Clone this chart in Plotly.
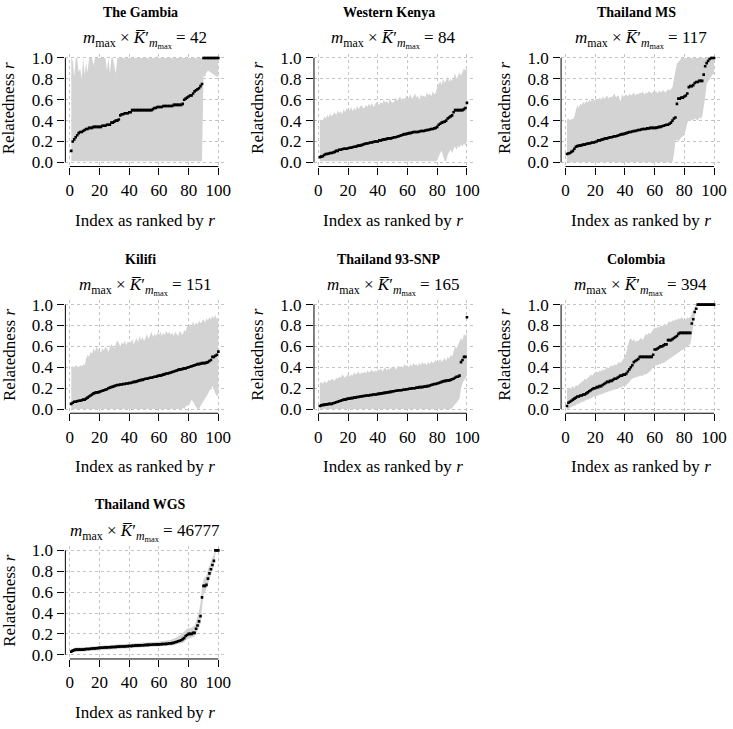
import plotly.graph_objects as go

# ---------------- data ----------------
panel_titles = ["The Gambia", "Western Kenya", "Thailand MS", "Kilifi",
                "Thailand 93-SNP", "Colombia", "Thailand WGS"]
effective_counts = [42, 84, 117, 151, 165, 394, 46777]

x_ticks = [0, 20, 40, 60, 80, 100]
y_ticks = [0.0, 0.2, 0.4, 0.6, 0.8, 1.0]
y_tick_text = ["0.0", "0.2", "0.4", "0.6", "0.8", "1.0"]

gambia_r = [0.11, 0.20, 0.22, 0.24, 0.26, 0.28, 0.29, 0.29, 0.30, 0.31,
            0.32, 0.32, 0.33, 0.33, 0.33, 0.34, 0.34, 0.34, 0.34, 0.34,
            0.34, 0.35, 0.35, 0.35, 0.36, 0.36, 0.36, 0.38, 0.38, 0.39,
            0.40, 0.40, 0.41, 0.45, 0.46, 0.46, 0.47, 0.47, 0.47, 0.48,
            0.48, 0.50, 0.50, 0.50, 0.50, 0.50, 0.50, 0.50, 0.50, 0.50,
            0.50, 0.50, 0.50, 0.50, 0.50, 0.51, 0.52, 0.52, 0.53, 0.53,
            0.53, 0.53, 0.54, 0.54, 0.54, 0.54, 0.54, 0.54, 0.54, 0.55,
            0.55, 0.55, 0.55, 0.55, 0.55, 0.56, 0.60, 0.61, 0.62, 0.63,
            0.64, 0.64, 0.66, 0.68, 0.69, 0.70, 0.71, 0.73, 0.75, 1.00,
            1.00, 1.00, 1.00, 1.00, 1.00, 1.00, 1.00, 1.00, 1.00, 1.00]
gambia_hi = [1.00, 0.97, 0.82, 1.00, 1.00, 0.86, 0.90, 0.80, 1.00, 0.84,
             0.95, 0.86, 1.00, 1.00, 1.00, 0.93, 1.00, 1.00, 1.00, 1.00,
             1.00, 1.00, 1.00, 1.00, 0.88, 1.00, 0.85, 1.00, 1.00, 0.90,
             0.85, 1.00, 1.00, 1.00, 1.00, 1.00, 1.00, 1.00, 1.00, 1.00,
             1.00, 1.00, 1.00, 1.00, 1.00, 1.00, 1.00, 1.00, 1.00, 1.00,
             1.00, 1.00, 1.00, 1.00, 1.00, 1.00, 1.00, 1.00, 1.00, 1.00,
             1.00, 1.00, 1.00, 1.00, 1.00, 1.00, 1.00, 1.00, 1.00, 1.00,
             1.00, 1.00, 1.00, 1.00, 1.00, 1.00, 1.00, 1.00, 1.00, 1.00,
             1.00, 1.00, 1.00, 1.00, 1.00, 1.00, 1.00, 1.00, 1.00, 1.00,
             1.00, 1.00, 1.00, 1.00, 1.00, 1.00, 1.00, 1.00, 1.00, 1.00]
gambia_lo = [0.01, 0.01, 0.01, 0.01, 0.01, 0.01, 0.01, 0.01, 0.01, 0.01,
             0.01, 0.01, 0.01, 0.01, 0.01, 0.01, 0.01, 0.01, 0.01, 0.01,
             0.01, 0.01, 0.01, 0.01, 0.01, 0.01, 0.01, 0.01, 0.01, 0.01,
             0.01, 0.01, 0.01, 0.01, 0.01, 0.01, 0.01, 0.01, 0.01, 0.01,
             0.01, 0.01, 0.01, 0.01, 0.01, 0.01, 0.01, 0.01, 0.01, 0.01,
             0.01, 0.01, 0.01, 0.01, 0.01, 0.01, 0.01, 0.01, 0.01, 0.01,
             0.01, 0.01, 0.01, 0.01, 0.01, 0.01, 0.01, 0.01, 0.01, 0.01,
             0.01, 0.01, 0.01, 0.01, 0.01, 0.01, 0.01, 0.01, 0.01, 0.01,
             0.01, 0.01, 0.01, 0.01, 0.01, 0.01, 0.01, 0.01, 0.01, 0.83,
             0.82, 0.86, 0.88, 0.87, 0.86, 0.85, 0.84, 0.83, 0.82, 0.82]

kenya_r = [0.05, 0.055, 0.06, 0.07, 0.08, 0.08, 0.085, 0.09, 0.09, 0.095,
           0.10, 0.11, 0.11, 0.12, 0.12, 0.125, 0.13, 0.13, 0.13, 0.135,
           0.14, 0.14, 0.145, 0.15, 0.15, 0.155, 0.16, 0.16, 0.165, 0.17,
           0.175, 0.18, 0.18, 0.185, 0.19, 0.19, 0.195, 0.20, 0.20, 0.20,
           0.21, 0.21, 0.215, 0.22, 0.22, 0.225, 0.23, 0.23, 0.23, 0.235,
           0.24, 0.24, 0.245, 0.25, 0.255, 0.26, 0.265, 0.27, 0.27, 0.275,
           0.28, 0.28, 0.285, 0.29, 0.29, 0.29, 0.29, 0.295, 0.30, 0.30,
           0.30, 0.305, 0.31, 0.31, 0.315, 0.32, 0.32, 0.325, 0.33, 0.34,
           0.36, 0.37, 0.38, 0.385, 0.39, 0.40, 0.42, 0.43, 0.44, 0.45,
           0.48, 0.50, 0.50, 0.50, 0.50, 0.50, 0.50, 0.51, 0.52, 0.57]
kenya_hi = [0.40, 0.41, 0.40, 0.44, 0.42, 0.45, 0.43, 0.47, 0.44, 0.46,
            0.48, 0.45, 0.50, 0.47, 0.49, 0.46, 0.51, 0.48, 0.52, 0.50,
            0.50, 0.53, 0.49, 0.52, 0.50, 0.54, 0.51, 0.53, 0.55, 0.52,
            0.52, 0.55, 0.53, 0.56, 0.54, 0.57, 0.53, 0.55, 0.58, 0.56,
            0.55, 0.58, 0.56, 0.60, 0.57, 0.59, 0.56, 0.61, 0.58, 0.57,
            0.58, 0.62, 0.59, 0.61, 0.63, 0.60, 0.62, 0.59, 0.64, 0.61,
            0.62, 0.65, 0.61, 0.63, 0.66, 0.62, 0.64, 0.60, 0.65, 0.63,
            0.64, 0.62, 0.67, 0.64, 0.66, 0.63, 0.68, 0.65, 0.67, 0.72,
            0.75, 0.78, 0.74, 0.80, 0.76, 0.79, 0.82, 0.77, 0.80, 0.78,
            0.82, 0.85, 0.80, 0.84, 0.86, 0.83, 0.87, 0.90, 0.88, 0.91]
kenya_lo = [0.01, 0.01, 0.01, 0.01, 0.01, 0.01, 0.01, 0.01, 0.01, 0.01,
            0.01, 0.01, 0.01, 0.01, 0.01, 0.01, 0.01, 0.01, 0.01, 0.01,
            0.01, 0.01, 0.01, 0.01, 0.01, 0.01, 0.01, 0.01, 0.01, 0.01,
            0.01, 0.01, 0.01, 0.01, 0.01, 0.01, 0.01, 0.01, 0.01, 0.01,
            0.01, 0.01, 0.01, 0.01, 0.01, 0.01, 0.01, 0.01, 0.01, 0.01,
            0.01, 0.01, 0.01, 0.01, 0.01, 0.01, 0.01, 0.01, 0.01, 0.01,
            0.01, 0.01, 0.01, 0.01, 0.01, 0.01, 0.01, 0.01, 0.01, 0.01,
            0.01, 0.01, 0.01, 0.01, 0.01, 0.01, 0.01, 0.01, 0.01, 0.02,
            0.06, 0.09, 0.11, 0.06, 0.01, 0.01, 0.07, 0.10, 0.12, 0.09,
            0.13, 0.15, 0.12, 0.16, 0.14, 0.17, 0.15, 0.18, 0.16, 0.20]

thms_r = [0.08, 0.085, 0.09, 0.10, 0.11, 0.13, 0.15, 0.155, 0.16, 0.16,
          0.165, 0.17, 0.17, 0.175, 0.18, 0.18, 0.185, 0.19, 0.19, 0.195,
          0.20, 0.21, 0.21, 0.215, 0.22, 0.225, 0.23, 0.23, 0.235, 0.24,
          0.24, 0.245, 0.25, 0.25, 0.255, 0.26, 0.265, 0.27, 0.27, 0.275,
          0.28, 0.285, 0.29, 0.29, 0.295, 0.30, 0.30, 0.305, 0.31, 0.31,
          0.315, 0.32, 0.32, 0.32, 0.325, 0.325, 0.33, 0.33, 0.33, 0.33,
          0.33, 0.335, 0.34, 0.34, 0.345, 0.35, 0.355, 0.36, 0.36, 0.37,
          0.38, 0.40, 0.42, 0.43, 0.56, 0.61, 0.61, 0.62, 0.62, 0.63,
          0.64, 0.66, 0.72, 0.73, 0.73, 0.74, 0.76, 0.77, 0.77, 0.78,
          0.78, 0.78, 0.84, 0.92, 0.95, 0.97, 0.99, 1.00, 1.00, 1.00]
thms_hi = [0.41, 0.42, 0.40, 0.42, 0.41, 0.44, 0.50, 0.55, 0.52, 0.56,
           0.55, 0.58, 0.56, 0.59, 0.57, 0.60, 0.58, 0.61, 0.59, 0.60,
           0.61, 0.59, 0.62, 0.60, 0.63, 0.61, 0.62, 0.64, 0.61, 0.63,
           0.62, 0.64, 0.66, 0.62, 0.64, 0.63, 0.58, 0.65, 0.63, 0.64,
           0.65, 0.63, 0.66, 0.64, 0.65, 0.67, 0.64, 0.66, 0.65, 0.67,
           0.66, 0.68, 0.65, 0.67, 0.66, 0.68, 0.67, 0.66, 0.68, 0.67,
           0.68, 0.66, 0.69, 0.67, 0.68, 0.69, 0.67, 0.68, 0.70, 0.69,
           0.70, 0.72, 0.80, 0.90, 0.95, 0.96, 0.98, 1.00, 1.00, 1.00,
           1.00, 1.00, 1.00, 1.00, 1.00, 1.00, 1.00, 1.00, 1.00, 1.00,
           1.00, 1.00, 1.00, 1.00, 1.00, 1.00, 1.00, 1.00, 1.00, 1.00]
thms_lo = [0.0, 0.0, 0.0, 0.0, 0.0, 0.0, 0.0, 0.0, 0.0, 0.0,
           0.0, 0.0, 0.0, 0.0, 0.0, 0.0, 0.0, 0.0, 0.0, 0.0,
           0.0, 0.0, 0.0, 0.0, 0.0, 0.0, 0.0, 0.0, 0.0, 0.0,
           0.0, 0.0, 0.0, 0.0, 0.0, 0.0, 0.0, 0.0, 0.0, 0.0,
           0.0, 0.0, 0.0, 0.0, 0.0, 0.0, 0.0, 0.0, 0.0, 0.0,
           0.0, 0.0, 0.0, 0.0, 0.0, 0.0, 0.0, 0.0, 0.0, 0.0,
           0.0, 0.0, 0.0, 0.0, 0.0, 0.0, 0.0, 0.0, 0.0, 0.0,
           0.0, 0.0, 0.08, 0.20, 0.22, 0.20, 0.22, 0.24, 0.25, 0.26,
           0.30, 0.38, 0.40, 0.39, 0.41, 0.40, 0.42, 0.41, 0.40, 0.43,
           0.42, 0.44, 0.50, 0.62, 0.75, 0.78, 0.80, 0.82, 0.84, 0.85]

kilifi_r = [0.05, 0.06, 0.07, 0.07, 0.075, 0.08, 0.08, 0.085, 0.09, 0.09,
            0.10, 0.11, 0.12, 0.13, 0.14, 0.15, 0.155, 0.16, 0.16, 0.165,
            0.17, 0.175, 0.18, 0.185, 0.19, 0.20, 0.205, 0.21, 0.215, 0.22,
            0.225, 0.23, 0.23, 0.235, 0.235, 0.24, 0.24, 0.245, 0.245, 0.25,
            0.25, 0.255, 0.26, 0.26, 0.265, 0.27, 0.275, 0.28, 0.28, 0.285,
            0.29, 0.29, 0.295, 0.30, 0.30, 0.305, 0.31, 0.31, 0.315, 0.32,
            0.32, 0.325, 0.33, 0.335, 0.34, 0.34, 0.345, 0.35, 0.355, 0.36,
            0.365, 0.37, 0.375, 0.38, 0.38, 0.385, 0.39, 0.39, 0.395, 0.40,
            0.405, 0.41, 0.415, 0.42, 0.425, 0.43, 0.43, 0.435, 0.44, 0.44,
            0.44, 0.445, 0.45, 0.46, 0.47, 0.50, 0.50, 0.51, 0.52, 0.55]
kilifi_hi = [0.40, 0.41, 0.40, 0.42, 0.41, 0.40, 0.42, 0.41, 0.43, 0.42,
             0.48, 0.52, 0.50, 0.55, 0.53, 0.58, 0.55, 0.60, 0.57, 0.56,
             0.54, 0.58, 0.56, 0.60, 0.58, 0.55, 0.59, 0.62, 0.60, 0.58,
             0.62, 0.66, 0.63, 0.60, 0.64, 0.62, 0.66, 0.61, 0.65, 0.63,
             0.64, 0.67, 0.62, 0.66, 0.68, 0.64, 0.70, 0.66, 0.69, 0.65,
             0.68, 0.72, 0.67, 0.70, 0.74, 0.69, 0.72, 0.70, 0.73, 0.71,
             0.74, 0.70, 0.73, 0.71, 0.75, 0.72, 0.74, 0.71, 0.73, 0.70,
             0.74, 0.72, 0.70, 0.75, 0.73, 0.71, 0.76, 0.74, 0.80, 0.78,
             0.82, 0.79, 0.84, 0.80, 0.83, 0.81, 0.85, 0.82, 0.84, 0.86,
             0.83, 0.87, 0.85, 0.88, 0.86, 0.89, 0.87, 0.90, 0.86, 0.88]
kilifi_lo = [0.0, 0.0, 0.0, 0.0, 0.0, 0.0, 0.0, 0.0, 0.0, 0.0,
             0.0, 0.0, 0.0, 0.0, 0.0, 0.0, 0.0, 0.0, 0.0, 0.0,
             0.0, 0.0, 0.0, 0.0, 0.0, 0.0, 0.0, 0.0, 0.0, 0.0,
             0.0, 0.0, 0.0, 0.0, 0.0, 0.0, 0.0, 0.0, 0.0, 0.0,
             0.0, 0.0, 0.0, 0.0, 0.0, 0.0, 0.0, 0.0, 0.0, 0.0,
             0.0, 0.0, 0.0, 0.0, 0.0, 0.0, 0.0, 0.0, 0.0, 0.0,
             0.0, 0.0, 0.0, 0.0, 0.0, 0.0, 0.0, 0.0, 0.0, 0.0,
             0.0, 0.0, 0.0, 0.0, 0.0, 0.01, 0.0, 0.02, 0.04, 0.03,
             0.06, 0.09, 0.07, 0.05, 0.02, 0.0, 0.0, 0.03, 0.06, 0.08,
             0.10, 0.12, 0.14, 0.17, 0.20, 0.22, 0.18, 0.15, 0.12, 0.14]

snp_r = [0.03, 0.035, 0.04, 0.04, 0.045, 0.045, 0.05, 0.05, 0.05, 0.055,
         0.06, 0.065, 0.07, 0.075, 0.08, 0.085, 0.09, 0.09, 0.095, 0.10,
         0.10, 0.105, 0.105, 0.11, 0.11, 0.115, 0.115, 0.12, 0.12, 0.125,
         0.125, 0.13, 0.13, 0.13, 0.135, 0.135, 0.14, 0.14, 0.14, 0.145,
         0.145, 0.15, 0.15, 0.155, 0.155, 0.16, 0.16, 0.165, 0.165, 0.17,
         0.17, 0.175, 0.175, 0.18, 0.18, 0.18, 0.185, 0.185, 0.19, 0.19,
         0.195, 0.195, 0.20, 0.20, 0.20, 0.205, 0.205, 0.21, 0.21, 0.21,
         0.215, 0.215, 0.22, 0.22, 0.225, 0.23, 0.235, 0.24, 0.24, 0.245,
         0.25, 0.255, 0.26, 0.265, 0.27, 0.27, 0.275, 0.275, 0.28, 0.285,
         0.29, 0.30, 0.31, 0.31, 0.32, 0.45, 0.47, 0.50, 0.50, 0.88]
snp_hi = [0.25, 0.26, 0.24, 0.27, 0.25, 0.26, 0.28, 0.27, 0.29, 0.28,
          0.27, 0.30, 0.29, 0.31, 0.30, 0.33, 0.31, 0.30, 0.32, 0.34,
          0.31, 0.33, 0.32, 0.35, 0.33, 0.34, 0.36, 0.33, 0.35, 0.34,
          0.36, 0.34, 0.37, 0.35, 0.36, 0.38, 0.35, 0.37, 0.36, 0.38,
          0.37, 0.39, 0.36, 0.38, 0.40, 0.37, 0.39, 0.38, 0.40, 0.39,
          0.41, 0.38, 0.40, 0.42, 0.39, 0.41, 0.40, 0.43, 0.41, 0.42,
          0.40, 0.43, 0.41, 0.44, 0.42, 0.43, 0.41, 0.44, 0.42, 0.45,
          0.43, 0.44, 0.42, 0.45, 0.43, 0.46, 0.44, 0.45, 0.47, 0.44,
          0.46, 0.48, 0.45, 0.47, 0.49, 0.46, 0.50, 0.48, 0.52, 0.50,
          0.55, 0.60, 0.58, 0.62, 0.65, 0.68, 0.66, 0.72, 0.70, 0.73]
snp_lo = [0.0, 0.0, 0.0, 0.0, 0.0, 0.0, 0.0, 0.0, 0.0, 0.0,
          0.0, 0.0, 0.0, 0.0, 0.0, 0.0, 0.0, 0.0, 0.0, 0.0,
          0.0, 0.0, 0.0, 0.0, 0.0, 0.0, 0.0, 0.0, 0.0, 0.0,
          0.0, 0.0, 0.0, 0.0, 0.0, 0.0, 0.0, 0.0, 0.0, 0.0,
          0.0, 0.0, 0.0, 0.0, 0.0, 0.0, 0.0, 0.0, 0.0, 0.0,
          0.0, 0.0, 0.0, 0.0, 0.0, 0.0, 0.0, 0.0, 0.0, 0.0,
          0.0, 0.0, 0.0, 0.0, 0.0, 0.0, 0.0, 0.0, 0.0, 0.0,
          0.0, 0.0, 0.0, 0.0, 0.0, 0.0, 0.0, 0.0, 0.0, 0.0,
          0.0, 0.0, 0.0, 0.0, 0.0, 0.0, 0.0, 0.0, 0.0, 0.01,
          0.02, 0.04, 0.06, 0.08, 0.10, 0.20, 0.25, 0.28, 0.30, 0.32]

col_r = [0.03, 0.06, 0.07, 0.08, 0.09, 0.10, 0.11, 0.12, 0.12, 0.13,
         0.13, 0.14, 0.14, 0.15, 0.16, 0.17, 0.18, 0.19, 0.20, 0.20,
         0.21, 0.21, 0.22, 0.22, 0.23, 0.24, 0.25, 0.26, 0.26, 0.27,
         0.27, 0.28, 0.29, 0.29, 0.30, 0.31, 0.32, 0.32, 0.33, 0.33,
         0.34, 0.36, 0.38, 0.40, 0.42, 0.45, 0.46, 0.47, 0.48, 0.50,
         0.50, 0.50, 0.50, 0.50, 0.50, 0.50, 0.50, 0.50, 0.52, 0.57,
         0.57, 0.58, 0.59, 0.60, 0.60, 0.61, 0.62, 0.62, 0.66, 0.66,
         0.66, 0.67, 0.68, 0.69, 0.70, 0.72, 0.73, 0.73, 0.73, 0.73,
         0.73, 0.73, 0.73, 0.73, 0.82, 0.86, 0.93, 0.96, 1.00, 1.00,
         1.00, 1.00, 1.00, 1.00, 1.00, 1.00, 1.00, 1.00, 1.00, 1.00]
col_hi = [0.18, 0.20, 0.19, 0.21, 0.22, 0.20, 0.23, 0.22, 0.24, 0.25,
          0.26, 0.27, 0.29, 0.28, 0.30, 0.31, 0.33, 0.32, 0.34, 0.35,
          0.36, 0.35, 0.37, 0.36, 0.38, 0.37, 0.39, 0.40, 0.39, 0.41,
          0.42, 0.41, 0.43, 0.42, 0.44, 0.45, 0.44, 0.46, 0.48, 0.50,
          0.55, 0.62, 0.66, 0.68, 0.65, 0.67, 0.64, 0.66, 0.65, 0.67,
          0.68, 0.66, 0.70, 0.72, 0.71, 0.73, 0.72, 0.74, 0.76, 0.78,
          0.77, 0.79, 0.78, 0.80, 0.79, 0.81, 0.82, 0.80, 0.83, 0.84,
          0.83, 0.85, 0.84, 0.86, 0.85, 0.87, 0.86, 0.88, 0.87, 0.85,
          0.86, 0.88, 0.87, 0.88, 0.92, 0.95, 0.98, 1.00, 1.00, 1.00,
          1.00, 1.00, 1.00, 1.00, 1.00, 1.00, 1.00, 1.00, 1.00, 1.00]
col_lo = [0.0, 0.0, 0.01, 0.02, 0.03, 0.03, 0.04, 0.05, 0.05, 0.06,
          0.07, 0.07, 0.08, 0.09, 0.09, 0.10, 0.10, 0.11, 0.12, 0.12,
          0.13, 0.13, 0.14, 0.14, 0.15, 0.15, 0.16, 0.16, 0.17, 0.17,
          0.18, 0.18, 0.19, 0.19, 0.20, 0.20, 0.21, 0.21, 0.22, 0.22,
          0.23, 0.24, 0.26, 0.28, 0.29, 0.30, 0.30, 0.31, 0.31, 0.32,
          0.32, 0.32, 0.33, 0.33, 0.34, 0.35, 0.36, 0.38, 0.40, 0.41,
          0.42, 0.42, 0.43, 0.43, 0.44, 0.44, 0.45, 0.46, 0.47, 0.48,
          0.49, 0.50, 0.51, 0.52, 0.53, 0.54, 0.55, 0.56, 0.57, 0.58,
          0.59, 0.60, 0.61, 0.62, 0.70, 0.80, 0.90, 0.97, 1.00, 1.00,
          1.00, 1.00, 1.00, 1.00, 1.00, 1.00, 1.00, 1.00, 1.00, 1.00]

wgs_r = [0.03, 0.04, 0.045, 0.05, 0.05, 0.05, 0.05, 0.05, 0.05, 0.052,
         0.055, 0.055, 0.056, 0.058, 0.06, 0.06, 0.062, 0.063, 0.065, 0.066,
         0.067, 0.068, 0.07, 0.07, 0.071, 0.072, 0.073, 0.074, 0.075, 0.075,
         0.076, 0.077, 0.078, 0.079, 0.08, 0.08, 0.081, 0.082, 0.083, 0.084,
         0.085, 0.086, 0.087, 0.088, 0.089, 0.09, 0.09, 0.091, 0.092, 0.093,
         0.094, 0.095, 0.095, 0.096, 0.097, 0.098, 0.098, 0.099, 0.10, 0.10,
         0.101, 0.102, 0.103, 0.104, 0.105, 0.106, 0.108, 0.11, 0.112, 0.115,
         0.12, 0.125, 0.13, 0.135, 0.14, 0.15, 0.16, 0.18, 0.19, 0.20,
         0.20, 0.20, 0.21, 0.21, 0.25, 0.28, 0.32, 0.37, 0.55, 0.66,
         0.66, 0.67, 0.73, 0.78, 0.82, 0.86, 0.90, 1.00, 1.00, 1.00]
wgs_hi = [0.05, 0.06, 0.065, 0.07, 0.07, 0.068, 0.07, 0.072, 0.07, 0.072,
          0.075, 0.074, 0.076, 0.078, 0.08, 0.079, 0.082, 0.083, 0.085, 0.086,
          0.087, 0.088, 0.09, 0.091, 0.092, 0.092, 0.094, 0.095, 0.096, 0.096,
          0.097, 0.098, 0.10, 0.10, 0.102, 0.101, 0.103, 0.104, 0.105, 0.106,
          0.107, 0.108, 0.11, 0.11, 0.112, 0.113, 0.113, 0.114, 0.116, 0.117,
          0.118, 0.12, 0.12, 0.121, 0.122, 0.124, 0.124, 0.125, 0.126, 0.127,
          0.128, 0.13, 0.131, 0.133, 0.135, 0.137, 0.14, 0.143, 0.147, 0.152,
          0.16, 0.167, 0.175, 0.185, 0.195, 0.21, 0.225, 0.24, 0.25, 0.255,
          0.255, 0.26, 0.27, 0.28, 0.32, 0.36, 0.42, 0.50, 0.65, 0.72,
          0.74, 0.76, 0.82, 0.86, 0.90, 0.93, 0.96, 1.00, 1.00, 1.00]
wgs_lo = [0.02, 0.025, 0.03, 0.032, 0.033, 0.033, 0.033, 0.034, 0.034, 0.035,
          0.037, 0.037, 0.038, 0.04, 0.041, 0.042, 0.044, 0.045, 0.046, 0.047,
          0.048, 0.049, 0.05, 0.051, 0.052, 0.053, 0.054, 0.055, 0.056, 0.056,
          0.057, 0.058, 0.059, 0.06, 0.061, 0.061, 0.062, 0.063, 0.064, 0.065,
          0.066, 0.067, 0.067, 0.068, 0.069, 0.07, 0.07, 0.071, 0.072, 0.073,
          0.074, 0.075, 0.075, 0.076, 0.077, 0.078, 0.078, 0.079, 0.08, 0.08,
          0.081, 0.082, 0.083, 0.083, 0.084, 0.085, 0.087, 0.088, 0.09, 0.092,
          0.095, 0.098, 0.10, 0.105, 0.11, 0.115, 0.12, 0.14, 0.15, 0.16,
          0.16, 0.165, 0.17, 0.175, 0.20, 0.22, 0.26, 0.30, 0.45, 0.58,
          0.60, 0.62, 0.66, 0.72, 0.76, 0.80, 0.85, 0.97, 1.00, 1.00]

series_r = [gambia_r, kenya_r, thms_r, kilifi_r, snp_r, col_r, wgs_r]
series_hi = [gambia_hi, kenya_hi, thms_hi, kilifi_hi, snp_hi, col_hi, wgs_hi]
series_lo = [gambia_lo, kenya_lo, thms_lo, kilifi_lo, snp_lo, col_lo, wgs_lo]

# ---------------- layout geometry (pixels in the 733x729 window) ----------------
W, H = 733, 729
col_left = [66.0, 317.0, 566.5]
row_top = [49.5, 300.0, 549.5]
pw, ph = 160.4, 114.5


def px(v):
    return v / W


def py(v):
    return 1 - v / H


FONT = "Liberation Serif"
BAND = "#d3d3d3"
GRID = "#c4c4c4"

fig = go.Figure()
annotations = []
shapes = []
layout_axes = {}

for k, title in enumerate(panel_titles):
    r, c = divmod(k, 3)
    n = k + 1
    xs = "" if n == 1 else str(n)
    xa, ya = "x" + xs, "y" + xs
    left, top = col_left[c], row_top[r]
    idx = list(range(1, len(series_r[k]) + 1))

    # confidence band
    fig.add_trace(go.Scatter(
        x=idx + idx[::-1], y=series_hi[k] + series_lo[k][::-1],
        fill="toself", fillcolor=BAND, line=dict(width=0),
        mode="lines", hoverinfo="skip", showlegend=False,
        xaxis=xa, yaxis=ya))
    # point estimates
    fig.add_trace(go.Scatter(
        x=idx, y=series_r[k], mode="markers",
        marker=dict(color="black", size=2.6, symbol="square", line=dict(width=0)),
        showlegend=False, xaxis=xa, yaxis=ya))

    common = dict(
        showgrid=True, gridcolor=GRID, griddash="3px,3px", gridwidth=1,
        zeroline=False, showline=False, ticks="outside", ticklen=7,
        tickwidth=1, tickcolor="black",
        tickfont=dict(family=FONT, size=17, color="black"),
    )
    layout_axes["xaxis" + xs] = dict(
        common, domain=[px(left), px(left + pw)], anchor=ya,
        range=[-2.96, 103.96], tickvals=x_ticks, ticklabelstandoff=1)
    layout_axes["yaxis" + xs] = dict(
        common, domain=[py(top + ph), py(top)], anchor=xa,
        range=[-0.04, 1.04], tickvals=y_ticks, ticktext=y_tick_text,
        ticklabelstandoff=1)

    # axis lines spanning only the tick range (R style)
    shapes.append(dict(type="line", xref=xa, yref=ya + " domain",
                       x0=x_ticks[0], x1=x_ticks[-1], y0=0, y1=0,
                       line=dict(color="black", width=1)))
    shapes.append(dict(type="line", xref=xa + " domain", yref=ya,
                       x0=0, x1=0, y0=y_ticks[0], y1=y_ticks[-1],
                       line=dict(color="black", width=1)))

    cxp = left + pw / 2
    annotations.append(dict(
        text="<b>" + title + "</b>", x=px(cxp - 4.5), y=py(top - 42),
        xref="paper", yref="paper", showarrow=False, xanchor="center",
        yanchor="middle", font=dict(family=FONT, size=14, color="black")))
    annotations.append(dict(
        text=("<i>m</i><sub>max</sub> \u00d7 <i>K\u0305</i>\u2032"
              "<sub><i>m</i><sub>max</sub></sub> = " + str(effective_counts[k])),
        x=px(cxp), y=py(top - 14), xref="paper", yref="paper",
        showarrow=False, xanchor="center", yanchor="middle",
        font=dict(family=FONT, size=17, color="black")))
    annotations.append(dict(
        text="Index as ranked by <i>r</i>", x=px(cxp), y=py(top + 169),
        xref="paper", yref="paper", showarrow=False, xanchor="center",
        yanchor="middle", font=dict(family=FONT, size=17, color="black")))
    annotations.append(dict(
        text="Relatedness <i>r</i>", x=px(left - 56.5),
        y=py(top + 55), xref="paper", yref="paper",
        showarrow=False, xanchor="center", yanchor="middle", textangle=-90,
        font=dict(family=FONT, size=17, color="black")))

fig.update_layout(
    width=W, height=H, margin=dict(l=0, r=0, t=0, b=0),
    paper_bgcolor="white", plot_bgcolor="white",
    annotations=annotations, shapes=shapes, **layout_axes)

# remove the default page margin so the figure fills the window exactly
fig.write_html("out.html",
               config={"displayModeBar": False, "staticPlot": True},
               post_script="document.body.style.margin='0';"
                           "document.body.style.overflow='hidden';")
